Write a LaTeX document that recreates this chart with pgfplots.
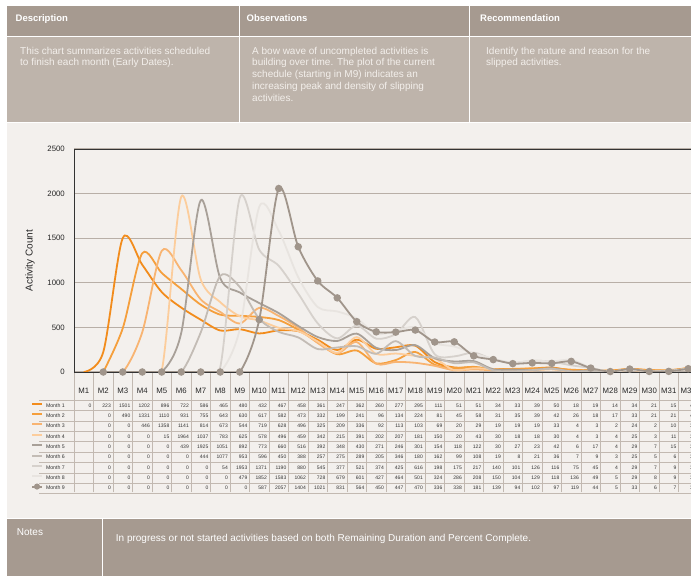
\documentclass[border=0pt]{standalone}
\usepackage{pgfplots}
\pgfplotsset{compat=1.18}
\usepackage{pgfplotstable}
\usepackage{fontspec}
\setmainfont{Liberation Sans}

\definecolor{hdr}{HTML}{A69A90}
\definecolor{rowc}{HTML}{BEB4AB}
\definecolor{bg}{HTML}{F3F0ED}
\definecolor{gridc}{HTML}{B8AFA7}
\definecolor{tline}{HTML}{C2B9B1}
\definecolor{txt}{HTML}{F3EFEB}
\definecolor{cA}{HTML}{F28C1C}
\definecolor{cB}{HTML}{F59F3C}
\definecolor{cC}{HTML}{F8B472}
\definecolor{cD}{HTML}{FCCD9C}
\definecolor{cE}{HTML}{A8A098}
\definecolor{cF}{HTML}{C3BCB5}
\definecolor{cG}{HTML}{D6D1CC}
\definecolor{cH}{HTML}{E8E4E0}
\definecolor{cI}{HTML}{A0958B}

\pgfplotsset{markleg/.style={legend image code/.code={\draw[##1, line width=2pt, mark repeat=2, mark phase=2, mark size=2pt] plot coordinates {(0pt,1.9pt) (5pt,1.9pt) (10pt,1.9pt)};}}}

\pgfplotstableread{
x a b c d e f g h i
1 0 nan nan nan nan nan nan nan nan
2 223 0 0 0 0 0 0 0 0
3 1501 490 0 0 0 0 0 0 0
4 1202 1331 446 0 0 0 0 0 0
5 896 1110 1358 15 0 0 0 0 0
6 722 931 1141 1964 439 0 0 0 0
7 586 755 814 1037 1925 444 0 0 0
8 465 643 673 783 1051 1077 54 0 0
9 480 630 544 625 892 953 1953 479 0
10 432 617 719 578 773 596 1371 1852 587
11 467 582 628 496 660 450 1190 1583 2057
12 458 473 496 459 516 388 880 1062 1404
13 361 332 325 342 392 257 545 728 1021
14 247 199 209 215 348 275 377 679 831
15 362 241 336 391 430 289 521 601 564
16 260 96 92 202 271 205 374 427 450
17 277 134 113 207 246 346 425 464 447
18 295 224 103 181 301 180 616 501 470
19 111 81 69 150 154 162 198 324 336
20 51 45 20 20 118 99 175 286 338
21 51 58 29 43 122 108 217 208 181
22 34 31 19 30 30 19 140 150 139
23 33 35 19 18 27 8 101 104 94
24 39 39 19 18 23 21 126 129 102
25 50 42 33 30 42 36 116 118 97
26 18 26 4 4 6 7 75 136 119
27 19 18 3 3 17 9 45 49 44
28 14 17 2 4 4 3 4 5 5
29 34 33 24 25 29 25 29 29 33
30 21 21 2 3 7 5 7 8 6
31 15 21 10 11 15 6 9 9 7
32 45 44 38 36 36 35 37 37 37
}\datatable

\def\nanstr{nan}

\begin{document}
\begin{tikzpicture}
\useasboundingbox (0pt,0pt) rectangle (691pt,576pt);
\fill[white] (0pt,0pt) rectangle (691pt,576pt);
\fill[bg] (6.6pt,58pt) rectangle (691pt,452.5pt);
\fill[hdr] (6.6pt,540pt) rectangle (691pt,570pt);
\fill[rowc] (6.6pt,454pt) rectangle (691pt,539pt);
\fill[hdr] (6.6pt,0pt) rectangle (691pt,57.5pt);
\draw[white, line width=1.5pt] (239.5pt,454pt) -- (239.5pt,570pt);
\draw[white, line width=1.5pt] (469.5pt,454pt) -- (469.5pt,570pt);
\draw[white, line width=1.5pt] (102.5pt,0pt) -- (102.5pt,57.5pt);

% header texts
\begin{scope}[every node/.style={anchor=base west, inner sep=0pt, text=white, font=\bfseries\fontsize{9.5}{11}\selectfont}]
\node at (15.5pt,554.3pt) {Description};
\node at (246.5pt,554.3pt) {Observations};
\node at (480pt,554.3pt) {Recommendation};
\end{scope}
\begin{scope}[every node/.style={anchor=base west, inner sep=0pt, text=txt, font=\fontsize{10}{12}\selectfont}]
\node at (20pt,521.7pt) {This chart summarizes activities scheduled};
\node at (20pt,510pt) {to finish each month (Early Dates).};
\node at (252pt,521.7pt) {A bow wave of uncompleted activities is};
\node at (252pt,510pt) {building over time. The plot of the current};
\node at (252pt,498.3pt) {schedule (starting in M9) indicates an};
\node at (252pt,486.6pt) {increasing peak and density of slipping};
\node at (252pt,474.9pt) {activities.};
\node at (486pt,521.7pt) {Identify the nature and reason for the};
\node at (486pt,510pt) {slipped activities.};
\node[text=white] at (16.7pt,40.7pt) {Notes};
\node[text=white] at (115.7pt,34.7pt) {In progress or not started activities based on both Remaining Duration and Percent Complete.};
\end{scope}

% data table grid
\foreach \k in {0,...,32} {
  \draw[tline, line width=0.8pt] ({(74+19.5*\k)*1pt},83.5pt) -- ({(74+19.5*\k)*1pt},204pt);
}
\foreach \j in {0,...,9} {
  \draw[tline, line width=0.8pt] (39pt,{(175.5-10.35*\j)*1pt}) -- (691pt,{(175.5-10.35*\j)*1pt});
}
% data table values
\foreach \r in {0,...,31} {
  \foreach \c [count=\ci] in {a,b,c,d,e,f,g,h,i} {
    \pgfplotstablegetelem{\r}{\c}\of\datatable
    \edef\v{\pgfplotsretval}
    \ifx\v\nanstr\else
      \node[anchor=base east, inner sep=0pt, text=black!80, font=\fontsize{5}{6}\selectfont]
        at ({(74+19.5*(\r+1)-2)*1pt},{(576-407.05-10.35*(\ci-1))*1pt}) {\v};
    \fi
  }
}

\begin{axis}[
  at={(74pt,204pt)}, anchor=south west,
  scale only axis, width=624pt, height=223pt,
  xmin=0.5, xmax=32.5, ymin=0, ymax=2500,
  xtick={1,...,32},
  xticklabels={M1,M2,M3,M4,M5,M6,M7,M8,M9,M10,M11,M12,M13,M14,M15,M16,M17,M18,M19,M20,M21,M22,M23,M24,M25,M26,M27,M28,M29,M30,M31,M32},
  ytick={0,500,...,2500},
  /pgf/number format/1000 sep={},
  ymajorgrids, grid style={gridc, line width=1.1pt},
  major tick length=0pt,
  axis line style={draw=black!80, line width=0.8pt},
  /pgf/number format/assume math mode=true,
  tick label style={text=black!85},
  yticklabel style={anchor=east, inner sep=0pt, xshift=-9pt, font=\fontsize{7.8}{9}\selectfont},
  xticklabel style={anchor=base, inner sep=0pt, yshift=-21pt, font=\fontsize{7.8}{9}\selectfont},
  ylabel={Activity Count},
  every axis y label/.style={at={(axis description cs:-0.0705,0.5)}, rotate=90, anchor=center, font=\fontsize{10}{12}\selectfont, text=black!85},
  legend style={at={(axis description cs:-0.0689,-0.1278)}, anchor=north west,
    draw=none, fill=none, inner sep=0pt, outer sep=0pt, row sep=0pt, column sep=3pt,
    font=\fontsize{5.2}{6}\selectfont, text=black!80,
    nodes={inner sep=0pt, outer sep=0pt, text height=6.5pt, text depth=3.85pt}},
  legend cell align=left,
  legend image code/.code={\draw[#1, line width=2pt] (0pt,1.9pt) -- (10pt,1.9pt);},
  every axis plot/.append style={smooth, line width=1.8pt},
]
\addplot[cA] table[x=x,y=a]{\datatable}; \addlegendentry{Month 1}
\addplot[cB] table[x=x,y=b]{\datatable}; \addlegendentry{Month 2}
\addplot[cC] table[x=x,y=c]{\datatable}; \addlegendentry{Month 3}
\addplot[cD] table[x=x,y=d]{\datatable}; \addlegendentry{Month 4}
\addplot[cE] table[x=x,y=e]{\datatable}; \addlegendentry{Month 5}
\addplot[cF] table[x=x,y=f]{\datatable}; \addlegendentry{Month 6}
\addplot[cG] table[x=x,y=g]{\datatable}; \addlegendentry{Month 7}
\addplot[cH] table[x=x,y=h]{\datatable}; \addlegendentry{Month 8}
\addplot[cI, mark=*, mark size=2.8pt, mark options={fill=cI, draw=cI}, markleg]
  table[x=x,y=i]{\datatable}; \addlegendentry{Month 9}
\end{axis}
\end{tikzpicture}
\end{document}
